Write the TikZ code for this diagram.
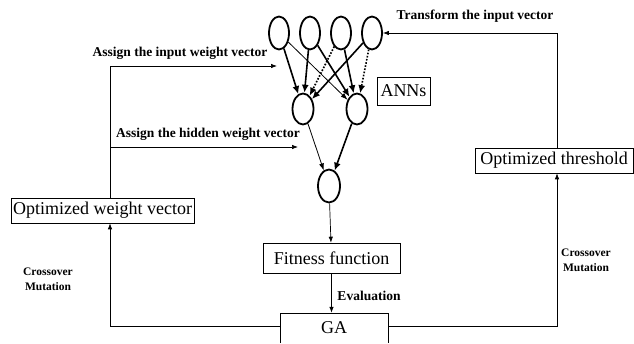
\documentclass[tikz,border=0pt]{standalone}
\usepackage{fontspec}
\setmainfont{Liberation Serif}
\usetikzlibrary{arrows.meta,shapes.geometric}
\begin{document}
\begin{tikzpicture}[x=1pt,y=-1pt,
 neuron/.style={ellipse,draw,line width=1.8pt,inner sep=0pt},
 box/.style={draw,line width=0.6pt,inner sep=0pt,font=\fontsize{18}{20}\selectfont},
 lab/.style={font=\bfseries\fontsize{13.5}{15}\selectfont,inner sep=0pt,align=center},
 cmlab/.style={font=\bfseries\fontsize{11.5}{15}\selectfont,inner sep=0pt,align=center},
 conn/.style={line width=0.7pt,-{Latex[length=6pt,width=4.5pt]}},
 thickarr/.style={line width=1.6pt,-{Latex[length=8pt,width=7pt]}},
 thinarr/.style={line width=0.8pt,-{Latex[length=7pt,width=5pt]}},
 dotarr/.style={line width=1.6pt,dash pattern=on 1.6pt off 1.6pt,-{Latex[length=8pt,width=7pt]}}
]
\useasboundingbox (0,0) rectangle (634,343);
% neurons
\node[neuron,minimum width=20pt,minimum height=33pt] (i1) at (279,33) {};
\node[neuron,minimum width=20pt,minimum height=33pt] (i2) at (310,33) {};
\node[neuron,minimum width=20pt,minimum height=33pt] (i3) at (341,33) {};
\node[neuron,minimum width=20pt,minimum height=33pt] (i4) at (372,33) {};
\node[neuron,minimum width=21pt,minimum height=31pt] (h1) at (303,109) {};
\node[neuron,minimum width=21pt,minimum height=31pt] (h2) at (357,109) {};
\node[neuron,minimum width=22pt,minimum height=33pt] (o) at (329,186) {};
% boxes
\node[box,minimum width=53pt,minimum height=28pt] (ann) at (403.5,91) {ANNs};
\node[box,minimum width=158pt,minimum height=25pt] (tbox) at (554,160.5) {Optimized threshold};
\node[box,minimum width=183pt,minimum height=25pt] (wbox) at (102.5,210.5) {Optimized weight vector};
\node[box,minimum width=137pt,minimum height=30pt] (fit) at (331.5,258) {Fitness function};
\node[font=\fontsize{18}{20}\selectfont,minimum width=108pt,minimum height=30pt,inner sep=0pt] (ga) at (334,328) {GA};
\draw[line width=0.6pt] (ga.south west) -- (ga.north west) -- (ga.north east) -- (ga.south east);
% coordinates
\coordinate (lx) at (110,0);
\coordinate (rx) at (557,0);
\coordinate (ain) at (277,66);
\coordinate (ahid) at (298,147);
% labels
\node[lab] (ltr) at (475,16) {Transform the input vector};
\node[lab] (lin) at (180,53) {Assign the input weight vector};
\node[lab] (lhid) at (208,134) {Assign the hidden weight vector};
\node[lab] (lev) at (369,296) {Evaluation};
\node[cmlab] (lcm) at (48,279) {Crossover\\Mutation};
\node[cmlab] (rcm) at (586,260) {Crossover\\Mutation};
% network connections
\draw[thickarr] (i1) -- (h1);
\draw[thinarr] (i1) -- (h2);
\draw[thickarr] (i2) -- (h1);
\draw[thickarr] (i2) -- (h2);
\draw[dotarr] (i3) -- (h1);
\draw[thickarr] (i3) -- (h2);
\draw[thickarr] (i4) -- (h1);
\draw[dotarr] (i4) -- (h2);
\draw[thinarr] (h1) -- (o);
\draw[thickarr] (h2) -- (o);
\draw[conn] (o) -- (fit);
\draw[conn] (fit.south) -- (fit.south |- ga.north);
% loops
\draw[conn] ([yshift=2pt]ga.west) -| (lx |- wbox.south);
\draw[conn] ([yshift=2pt]ga.east) -| (rx |- tbox.south);
\draw[conn] (lx |- wbox.north) |- (ain);
\draw[conn] (lx |- ahid) -- (ahid);
\draw[conn] (rx |- tbox.north) |- (i4.east);
\end{tikzpicture}
\end{document}
